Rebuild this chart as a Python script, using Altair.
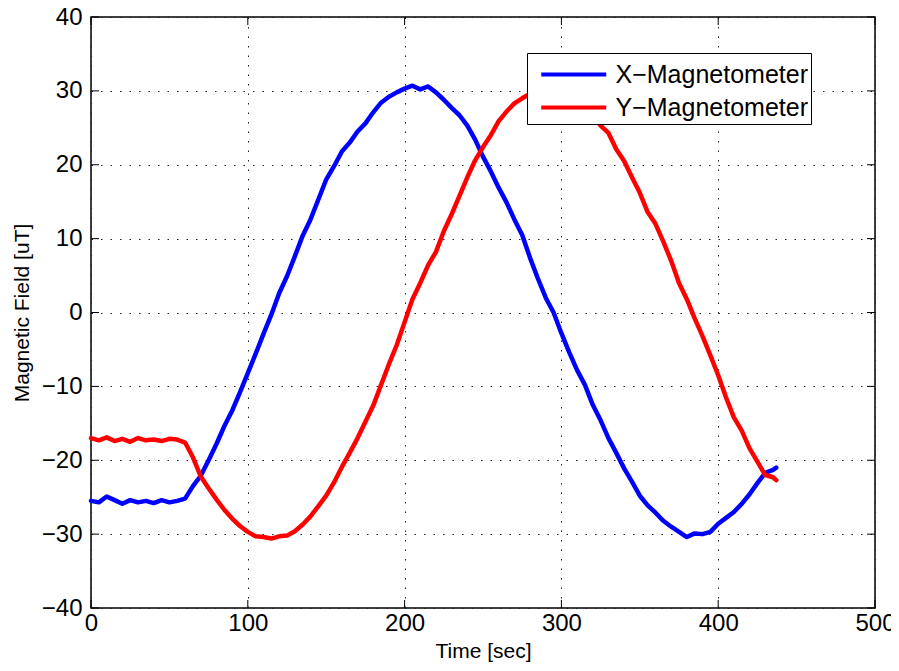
import altair as alt
import pandas as pd

# ---- data ----
time_sec = [0, 5, 10, 15, 20, 25, 30, 35, 40, 45, 50, 55,
            60, 65, 70, 75, 80, 85, 90, 95, 100, 105, 110, 115,
            120, 125, 130, 135, 140, 145, 150, 155, 160, 165, 170, 175,
            180, 185, 190, 195, 200, 205, 210, 215, 220, 225, 230, 235,
            240, 245, 250, 255, 260, 265, 270, 275, 280, 285, 290, 295,
            300, 305, 310, 315, 320, 325, 330, 335, 340, 345, 350, 355,
            360, 365, 370, 375, 380, 385, 390, 395, 400, 405, 410, 415,
            420, 425, 430, 435, 437]

x_mag = [-25.5, -25.7, -24.9, -25.4, -25.9, -25.4, -25.7, -25.5, -25.8, -25.4, -25.7, -25.5,
         -25.2, -23.5, -22.1, -20.0, -17.8, -15.4, -13.3, -10.8, -8.2, -5.6, -2.9, -0.3,
         2.6, 4.9, 7.6, 10.4, 12.6, 15.3, 18.0, 19.8, 21.8, 23.0, 24.5, 25.6,
         27.1, 28.4, 29.2, 29.8, 30.3, 30.7, 30.2, 30.6, 29.8, 28.8, 27.7, 26.7,
         25.3, 23.4, 21.1, 19.1, 16.9, 14.9, 12.6, 10.5, 7.4, 4.6, 2.0, 0.0,
         -2.8, -5.4, -7.8, -9.8, -12.5, -14.6, -17.0, -19.0, -21.1, -22.9, -24.8, -26.1,
         -27.1, -28.2, -29.0, -29.7, -30.4, -29.9, -30.0, -29.7, -28.6, -27.8, -27.0, -25.9,
         -24.6, -23.1, -21.7, -21.3, -21.0]

y_mag = [-17.0, -17.3, -16.9, -17.4, -17.1, -17.5, -17.0, -17.3, -17.2, -17.4, -17.1, -17.2,
         -17.6, -19.6, -22.2, -23.8, -25.3, -26.7, -27.9, -28.9, -29.7, -30.3, -30.4, -30.6,
         -30.3, -30.2, -29.6, -28.7, -27.6, -26.2, -24.8, -23.0, -20.9, -19.0, -17.0, -14.8,
         -12.6, -9.8, -7.0, -4.4, -1.3, 1.8, 4.0, 6.4, 8.2, 11.0, 13.3, 15.8,
         18.3, 20.6, 22.4, 24.0, 25.9, 27.2, 28.3, 29.0, 29.6, 30.1, 30.4, 30.6,
         30.5, 30.0, 29.2, 28.0, 26.7, 25.3, 24.3, 22.1, 20.5, 18.3, 16.2, 13.6,
         12.0, 9.6, 7.0, 4.0, 1.8, -0.8, -3.2, -5.8, -8.5, -11.5, -14.2, -16.0,
         -18.4, -20.2, -22.0, -22.3, -22.7]

series_names = ["X\u2212Magnetometer", "Y\u2212Magnetometer"]
series_colors = ["#0000FF", "#FF0000"]

x_ticks = [0, 100, 200, 300, 400, 500]
y_ticks = [-40, -30, -20, -10, 0, 10, 20, 30, 40]

# ---- tables ----
rows = []
for t, v in zip(time_sec, x_mag):
    rows.append({"t": t, "value": v, "series": series_names[0]})
for t, v in zip(time_sec, y_mag):
    rows.append({"t": t, "value": v, "series": series_names[1]})
df = pd.DataFrame(rows)
xt_df = pd.DataFrame({"xt": x_ticks})
yt_df = pd.DataFrame({"yt": y_ticks})

W, H = 784, 591
FONT = "Liberation Sans"

x_scale = alt.Scale(domain=[0, 500], nice=False, zero=False)
y_scale = alt.Scale(domain=[-40, 40], nice=False, zero=False)

x_axis = alt.Axis(values=x_ticks, title="Time [sec]", grid=True, ticks=False, domain=False,
                  gridDash=[1.5, 8], gridColor="#222", gridOpacity=1, gridWidth=1,
                  labelFont=FONT, labelFontSize=24, labelColor="black", labelPadding=3,
                  labelFlush=False, labelOverlap=False,
                  titleFont=FONT, titleFontSize=21, titleFontWeight="normal", titleColor="black",
                  titleY=49, titleBaseline="alphabetic")
y_axis = alt.Axis(values=y_ticks, title="Magnetic Field [uT]", grid=True, ticks=False, domain=False,
                  gridDash=[1.5, 8], gridColor="#222", gridOpacity=1, gridWidth=1,
                  labelFont=FONT, labelFontSize=24, labelColor="black", labelPadding=9,
                  labelFlush=False, labelOverlap=False,
                  titleFont=FONT, titleFontSize=21, titleFontWeight="normal", titleColor="black",
                  titleX=-63, titleY=H / 2, titleAlign="center", titleBaseline="alphabetic")

lines = alt.Chart(df).mark_line(strokeWidth=4.5, strokeJoin="round", strokeCap="round").encode(
    x=alt.X("t:Q", scale=x_scale, axis=x_axis),
    y=alt.Y("value:Q", scale=y_scale, axis=y_axis),
    color=alt.Color("series:N",
                    scale=alt.Scale(domain=series_names, range=series_colors),
                    legend=alt.Legend(orient="none", legendX=436, legendY=36, title=None,
                                      symbolType="M-1,0H3", symbolSize=1056, symbolStrokeWidth=4,
                                      labelFont=FONT, labelFontSize=25, labelColor="black",
                                      labelLimit=400,
                                      padding=3, rowPadding=1, labelOffset=39.5, symbolOffset=9,
                                      strokeColor="black", fillColor="white", cornerRadius=0)),
    order=alt.Order("t:Q"),
)

tick_color = "black"
left_ticks = alt.Chart(yt_df).mark_rule(color=tick_color, strokeWidth=1).encode(
    y=alt.Y("yt:Q", scale=y_scale, axis=y_axis), x=alt.value(0), x2=alt.value(8))
right_ticks = alt.Chart(yt_df).mark_rule(color=tick_color, strokeWidth=1).encode(
    y=alt.Y("yt:Q", scale=y_scale, axis=y_axis), x=alt.value(W - 8), x2=alt.value(W))
bottom_ticks = alt.Chart(xt_df).mark_rule(color=tick_color, strokeWidth=1).encode(
    x=alt.X("xt:Q", scale=x_scale, axis=x_axis), y=alt.value(H), y2=alt.value(H - 8))
top_ticks = alt.Chart(xt_df).mark_rule(color=tick_color, strokeWidth=1).encode(
    x=alt.X("xt:Q", scale=x_scale, axis=x_axis), y=alt.value(0), y2=alt.value(8))

chart = alt.layer(lines, left_ticks, right_ticks, bottom_ticks, top_ticks).properties(
    width=W, height=H,
    autosize=alt.AutoSizeParams(type="none"),
    padding={"left": 83, "top": 9, "right": 16, "bottom": 55},
    background="white",
).configure_view(stroke="black", strokeWidth=1.5)

chart.save("out.html", embed_options={"renderer": "svg", "actions": False})
